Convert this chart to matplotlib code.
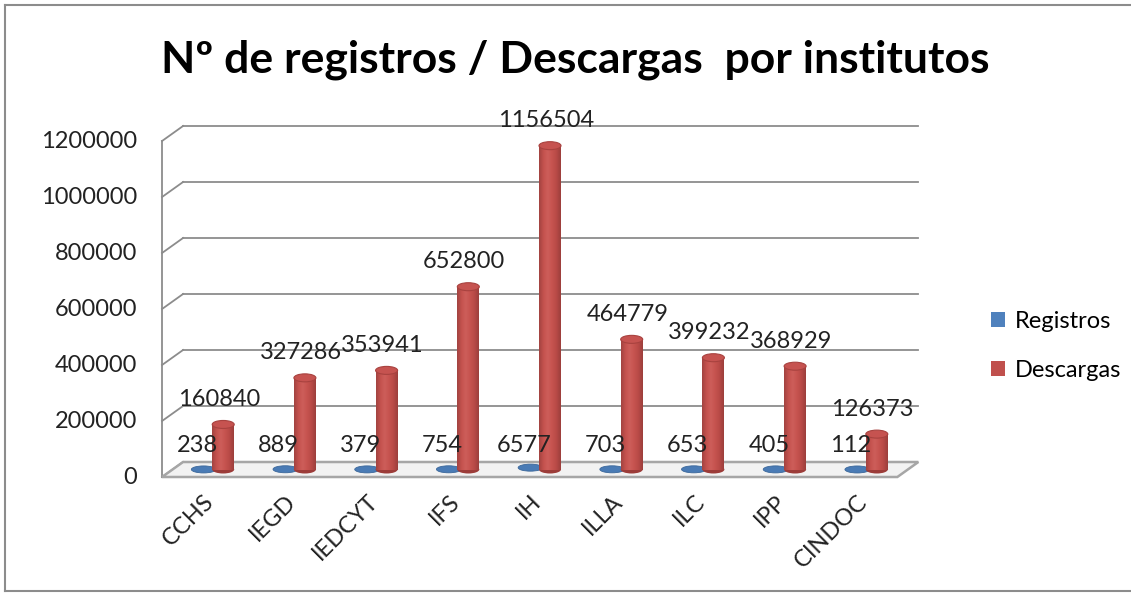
import numpy as np
import matplotlib.pyplot as plt
from matplotlib.patches import Ellipse, Polygon, Patch
from matplotlib.colors import LinearSegmentedColormap

# Data
institutos = ['CCHS', 'IEGD', 'IEDCYT', 'IFS', 'IH', 'ILLA', 'ILC', 'IPP', 'CINDOC']
registros = [238, 889, 379, 754, 6577, 703, 653, 405, 112]
descargas = [160840, 327286, 353941, 652800, 1156504, 464779, 399232, 368929, 126373]
yticks = [0, 200000, 400000, 600000, 800000, 1000000, 1200000]

plt.rcParams['font.family'] = ['Lato', 'DejaVu Sans']

W, H = 1131, 594
fig = plt.figure(figsize=(W / 100, H / 100), dpi=100)

# pixel layout of the plot area
px_l, px_r, px_t, px_b = 140, 940, 100, 500
ax = fig.add_axes([px_l / W, 1 - px_b / H, (px_r - px_l) / W, (px_b - px_t) / H])
xu = 81.7          # px per category
vu = 1200000 / 336  # value per px
x0px, y0px = 213.4, 469.5
ax.axis('off')

ddx = 10.5 / xu    # depth offset
ddv = 7.5 * vu
n = len(institutos)
xs = np.arange(n)
grid = '#8c8c8c'
fs = 17

# floor
floor = Polygon([(-0.5 - ddx, -ddv), (n - 0.5 - ddx, -ddv),
                 (n - 0.5 + ddx, ddv), (-0.5 + ddx, ddv)],
                closed=True, facecolor='#f2f2f2', edgecolor='#a6a6a6', lw=1.8, zorder=1)
ax.add_patch(floor)

# walls / gridlines
for v in yticks:
    if v > 0:
        ax.plot([-0.5 + ddx, n - 0.5 + ddx], [v + ddv, v + ddv], color=grid, lw=1.3, zorder=0.5)
    ax.plot([-0.5 - ddx, -0.5 + ddx], [v - ddv, v + ddv], color=grid, lw=1.3, zorder=0.5)
    ax.text(-0.5 - ddx - 25 / xu, v - ddv, str(v), ha='right', va='center',
            fontsize=fs, color='#222222')
ax.plot([-0.5 - ddx, -0.5 - ddx], [-ddv, yticks[-1] - ddv], color=grid, lw=1.3, zorder=0.5)

# cylinders
bw = 22 / xu
eh = 8 * vu
red_cmap = LinearSegmentedColormap.from_list(
    'cyl', ['#a24340', '#c4524e', '#cd5e5a', '#c6534f', '#b84a47', '#9c3f3c'])
grad = np.linspace(0, 1, 64).reshape(1, -1)

xr = xs + 0.12
xb = xs - 0.12

for x, v in zip(xb, registros):
    ax.add_patch(Ellipse((x, v), 0.3, 7 * vu, facecolor='#4a7bb5',
                         edgecolor='#3b679a', lw=0.6, zorder=2))

bars = ax.bar(xr, descargas, width=bw, bottom=0, color='#c0504d', zorder=3, lw=0)
for rect, x, v in zip(bars, xr, descargas):
    ax.add_patch(Ellipse((x, 0), bw, eh, facecolor='#9c3c39', edgecolor='none', zorder=2.9))
    im = ax.imshow(grad, cmap=red_cmap, extent=[x - bw / 2, x + bw / 2, 0, v],
                   aspect='auto', zorder=3.1)
    im.set_clip_path(rect)
    ax.add_patch(Ellipse((x, v), bw, eh, facecolor='#c65350', edgecolor='#a8423f',
                         lw=0.8, zorder=3.2))

ax.set_xlim((px_l - x0px) / xu, (px_r - x0px) / xu)
ax.set_ylim((y0px - px_b) * vu, (y0px - px_t) * vu)

# data labels
for x, v in zip(xb, registros):
    ax.text(x - 0.08, 23.5 * vu, str(v), ha='center', va='center', fontsize=fs,
            color='#222222', zorder=5)
for x, v in zip(xr, descargas):
    ax.text(x - 0.05, v + 25 * vu, str(v), ha='center', va='center', fontsize=fs,
            color='#222222', zorder=5)

# category labels
for x, lab in zip(xs, institutos):
    ax.text(x - 0.12, -ddv - 14 * vu, lab, rotation=45, ha='right', va='top',
            rotation_mode='anchor', fontsize=fs, color='#222222')

# title
fig.text(575 / W, 1 - 60 / H, 'Nº de registros / Descargas  por institutos',
         ha='center', va='center', fontsize=32, fontweight='bold', color='black')

# legend
handles = [Patch(facecolor='#4f81bd'), Patch(facecolor='#c0504d')]
fig.legend(handles, ['Registros', 'Descargas'], loc='center left',
           bbox_to_anchor=(970 / W, 1 - 346 / H), frameon=False, fontsize=fs,
           handlelength=0.6, handleheight=0.6, handletextpad=0.4, labelspacing=1.2)

# chart border
for seg in [([5, 5], [5, 591]), ([5, W], [5, 5]), ([5, W], [591, 591])]:
    fig.add_artist(plt.Line2D([p / W for p in seg[0]], [1 - p / H for p in seg[1]],
                              color='#8c8c8c', lw=1.5))

fig.savefig('out.png', dpi=100, facecolor='white')
